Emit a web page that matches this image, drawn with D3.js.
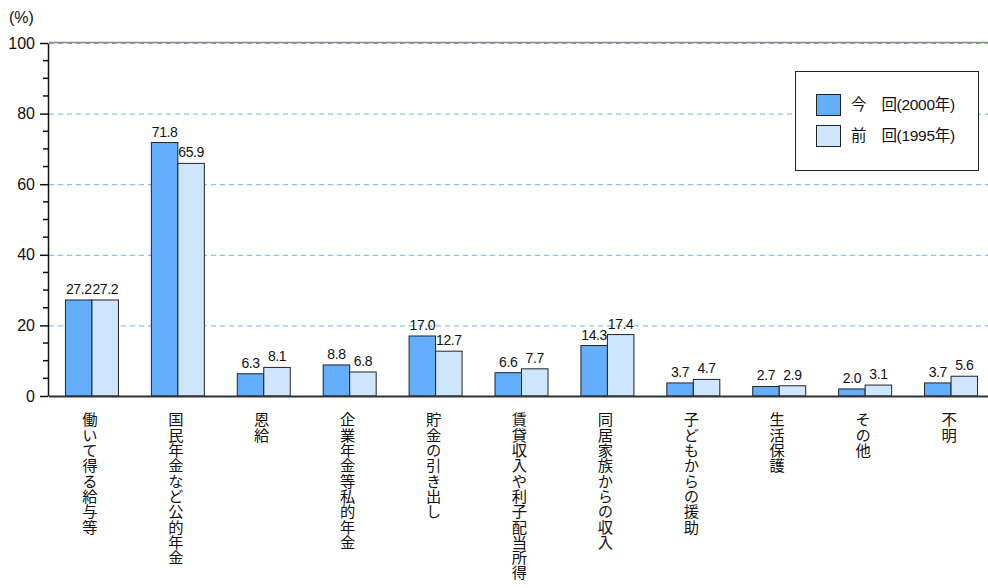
<!DOCTYPE html>
<html>
<head>
<meta charset="utf-8">
<script src="https://cdn.jsdelivr.net/npm/d3@7"></script>
<style>
  html, body { margin: 0; padding: 0; background: #fff; }
  svg { display: block; font-family: "Liberation Sans", Arial, "Noto Sans CJK JP", sans-serif; }
  .cat { font-family: "Noto Sans CJK JP", sans-serif; writing-mode: vertical-rl; text-orientation: upright; }
</style>
</head>
<body>
<svg id="chart" width="988" height="588"></svg>
<script>
// Main sources of income (%), two survey rounds
const categories = [
  "働いて得る給与等", "国民年金など公的年金", "恩給", "企業年金等私的年金",
  "貯金の引き出し", "賃貸収入や利子配当所得", "同居家族からの収入",
  "子どもからの援助", "生活保護", "その他", "不明"
];
const current2000 = [27.2, 71.8, 6.3, 8.8, 17.0, 6.6, 14.3, 3.7, 2.7, 2.0, 3.7];
const previous1995 = [27.2, 65.9, 8.1, 6.8, 12.7, 7.7, 17.4, 4.7, 2.9, 3.1, 5.6];
const seriesNames = ["今　回(2000年)", "前　回(1995年)"];
const yTicks = [0, 20, 40, 60, 80, 100];

const colors = ["#63affd", "#cde5fd"];
const svg = d3.select("#chart");

const x0 = 49, x1 = 994, yTop = 43, yBase = 396;
const x = d3.scaleBand().domain(categories).range([x0, x1]).paddingInner(0).paddingOuter(0);
const y = d3.scaleLinear().domain([0, 100]).range([yBase, yTop]);
const barW = 26.5;

// dashed gridlines
svg.append("g").selectAll("line").data(yTicks.filter(d => d > 0)).join("line")
  .attr("x1", x0).attr("x2", 988)
  .attr("y1", d => y(d) + 0.5).attr("y2", d => y(d) + 0.5)
  .attr("stroke", "#66b2ff").attr("stroke-width", 1).attr("stroke-dasharray", "5,4");

// top frame line
svg.append("line").attr("x1", x0).attr("x2", 988)
  .attr("y1", y(100) - 0.5).attr("y2", y(100) - 0.5)
  .attr("stroke", "#888").attr("stroke-width", 1.5);

// bars
const series = [current2000, previous1995];
series.forEach((vals, si) => {
  const g = svg.append("g");
  g.selectAll("rect").data(vals).join("rect")
    .attr("x", (d, i) => x(categories[i]) + x.bandwidth() / 2 - barW + si * barW)
    .attr("y", d => y(d))
    .attr("width", barW)
    .attr("height", d => yBase - y(d))
    .attr("fill", colors[si])
    .attr("stroke", "#222").attr("stroke-width", 1);
  g.selectAll("text").data(vals).join("text")
    .attr("x", (d, i) => x(categories[i]) + x.bandwidth() / 2 - barW / 2 + si * barW)
    .attr("y", d => y(d) - 6)
    .attr("text-anchor", "middle")
    .attr("font-size", 14).attr("letter-spacing", -0.4).attr("fill", "#111")
    .text(d => d.toFixed(1));
});

// baseline
svg.append("line").attr("x1", x0).attr("x2", 988)
  .attr("y1", yBase + 0.5).attr("y2", yBase + 0.5)
  .attr("stroke", "#333").attr("stroke-width", 2);

// y axis with major and minor ticks
const yAxis = d3.axisLeft(y).tickValues(yTicks).tickSize(8).tickSizeOuter(0).tickPadding(5);
const ag = svg.append("g").attr("transform", `translate(${x0 - 1},0)`).call(yAxis);
ag.select(".domain").attr("stroke", "#111").attr("stroke-width", 1.5);
ag.selectAll(".tick line").attr("stroke", "#111").attr("stroke-width", 1.5);
ag.selectAll(".tick text").attr("font-size", 16).attr("fill", "#111")
  .attr("font-family", "Liberation Sans, Arial, sans-serif");
const minor = d3.range(0, 101, 5).filter(v => v % 20 !== 0);
ag.append("g").selectAll("line").data(minor).join("line")
  .attr("x1", -5).attr("x2", 0)
  .attr("y1", d => y(d)).attr("y2", d => y(d))
  .attr("stroke", "#111").attr("stroke-width", 1.5);

svg.append("text").attr("x", 9).attr("y", 23).attr("font-size", 16).attr("fill", "#111").text("(%)");

// vertical category labels
svg.append("g").selectAll("text").data(categories).join("text")
  .attr("class", "cat")
  .attr("x", d => x(d) + x.bandwidth() / 2 - 2)
  .attr("y", 412)
  .attr("font-size", 15.3).attr("fill", "#111")
  .text(d => d);

// legend
const lg = svg.append("g");
lg.append("rect").attr("x", 795.5).attr("y", 71.5).attr("width", 183).attr("height", 99)
  .attr("fill", "#fff").attr("stroke", "#222").attr("stroke-width", 1);
seriesNames.forEach((name, i) => {
  const yy = 94 + i * 31;
  lg.append("rect").attr("x", 816.5).attr("y", yy + 0.5).attr("width", 24).attr("height", 21)
    .attr("fill", colors[i]).attr("stroke", "#222").attr("stroke-width", 1);
  lg.append("text").attr("x", 851).attr("y", yy + 16)
    .attr("font-size", 15.5).attr("fill", "#111")
    .attr("font-family", "Liberation Sans, Arial, Noto Sans CJK JP, sans-serif")
    .attr("letter-spacing", -0.3)
    .text(name);
});
</script>
</body>
</html>
